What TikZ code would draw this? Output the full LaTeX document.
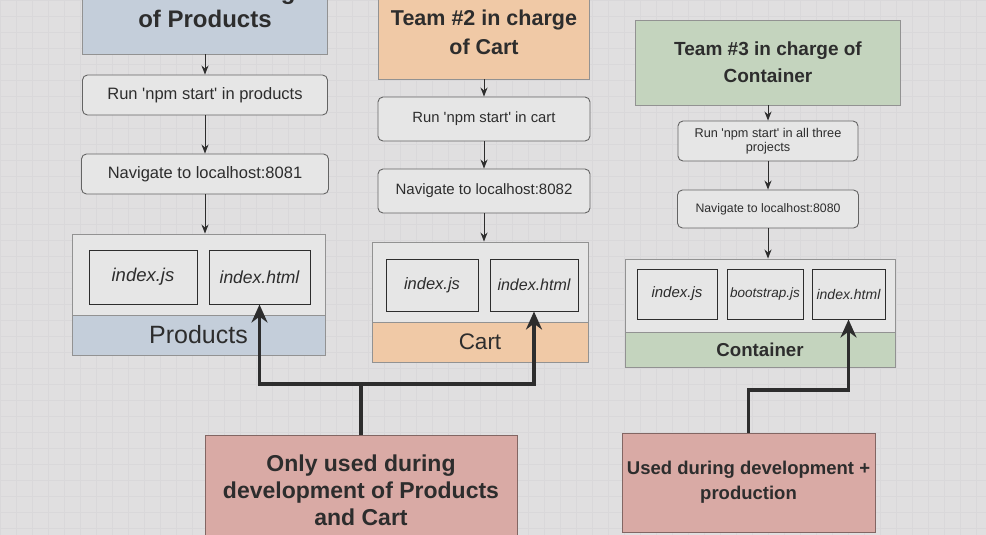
\documentclass[tikz,border=0pt]{standalone}
\usepackage{fontspec}
\setmainfont{Liberation Sans}
\usetikzlibrary{arrows.meta}
\definecolor{bgc}{RGB}{224,223,224}
\definecolor{gridc}{RGB}{217,216,218}
\definecolor{hblue}{RGB}{196,206,218}
\definecolor{horange}{RGB}{240,201,166}
\definecolor{hgreen}{RGB}{196,212,190}
\definecolor{hpink}{RGB}{217,170,165}
\definecolor{boxin}{RGB}{230,230,230}
\definecolor{txt}{RGB}{45,45,45}
\definecolor{edge}{RGB}{100,100,100}
\newcommand{\fsz}[2]{\fontsize{#1}{#2}\selectfont}
\newcommand{\q}{\textquotesingle}
\begin{document}
\begin{tikzpicture}[x=1pt,y=-1pt,
  every node/.style={text=txt, inner sep=2pt, align=center},
  header/.style={draw=edge!70, line width=0.8pt, font=\bfseries},
  stepbox/.style={draw=edge, fill=boxin, rounded corners=5pt, line width=0.9pt},
  contbox/.style={draw=edge!70, fill=boxin, line width=0.9pt},
  band/.style={draw=edge!70, line width=0.9pt},
  filebox/.style={draw=txt, fill=boxin, line width=1pt, font=\itshape},
  notebox/.style={draw=hpink!60!black, fill=hpink, line width=0.9pt, font=\bfseries},
  arr/.style={draw=txt, line width=1pt, -{Stealth[length=9pt,width=7pt]}},
  conn/.style={draw=txt, line width=3.8pt},
  connarr/.style={conn, -{Stealth[length=18pt,width=16pt]}}
]
\useasboundingbox (0,0) rectangle (986,535);
\fill[bgc] (0,0) rectangle (986,535);
\draw[gridc, line width=0.4pt, step=16pt] (0,0) grid (986,535);

% ---------- column 1: Products ----------
\node[header, fill=hblue, minimum width=245, minimum height=98, font=\bfseries\fsz{24}{28}] (hdr1) at (205,5) {Team \#1 in charge\\of Products};
\node[stepbox, minimum width=245, minimum height=40, font=\fsz{16.5}{19}] (run1) at (205,95) {Run \q npm start\q{} in products};
\node[stepbox, minimum width=247, minimum height=40, font=\fsz{16.5}{19}] (nav1) at (205,174) {Navigate to localhost:8081};
\node[contbox, minimum width=253, minimum height=121] (cont1) at (198.5,294.5) {};
\node[band, fill=hblue, minimum width=253, minimum height=40, font=\fsz{25}{29}] (lab1) at (198.5,335) {Products};
\node[filebox, minimum width=108, minimum height=54, font=\itshape\fsz{18.5}{21}] (js1) at (143,277) {index.js};
\node[filebox, minimum width=101, minimum height=54, font=\itshape\fsz{17.5}{21}] (html1) at (259.5,277) {index.html};
\draw[arr] (hdr1.south) -- (run1.north);
\draw[arr] (run1.south) -- (nav1.north);
\draw[arr] (nav1.south) -- (nav1.south |- cont1.north);

% ---------- column 2: Cart ----------
\node[header, fill=horange, minimum width=211, minimum height=94, font=\bfseries\fsz{21.5}{29}] (hdr2) at (484,32) {Team \#2 in charge\\of Cart};
\node[stepbox, minimum width=212, minimum height=44, font=\fsz{14.8}{17}] (run2) at (484,119) {Run \q npm start\q{} in cart};
\node[stepbox, minimum width=212, minimum height=44, font=\fsz{15}{18}] (nav2) at (484,191) {Navigate to localhost:8082};
\node[contbox, minimum width=216, minimum height=120] (cont2) at (480,302) {};
\node[band, fill=horange, minimum width=216, minimum height=40, font=\fsz{22.5}{26}] (lab2) at (480,342) {Cart};
\node[filebox, minimum width=92, minimum height=52, font=\itshape\fsz{16.5}{19}] (js2) at (432,285) {index.js};
\node[filebox, minimum width=88, minimum height=52, font=\itshape\fsz{16}{19}] (html2) at (534,285) {index.html};
\draw[arr] (hdr2.south) -- (run2.north);
\draw[arr] (run2.south) -- (nav2.north);
\draw[arr] (nav2.south) -- (nav2.south |- cont2.north);

% ---------- column 3: Container ----------
\node[header, fill=hgreen, minimum width=265, minimum height=85, font=\bfseries\fsz{19}{27}] (hdr3) at (768,62.5) {Team \#3 in charge of\\Container};
\node[stepbox, minimum width=180, minimum height=40, font=\fsz{12.7}{14}] (run3) at (768,141) {Run \q npm start\q{} in all three\\projects};
\node[stepbox, minimum width=181, minimum height=38, font=\fsz{12.3}{15}] (nav3) at (768,209) {Navigate to localhost:8080};
\node[contbox, minimum width=270, minimum height=108] (cont3) at (760,313) {};
\node[band, fill=hgreen, minimum width=270, minimum height=35, font=\bfseries\fsz{18.7}{22}] (lab3) at (760,349.5) {Container};
\node[filebox, minimum width=80, minimum height=50, font=\itshape\fsz{15}{18}] (js3) at (677,294) {index.js};
\node[filebox, minimum width=76, minimum height=50, inner sep=0pt, font=\itshape\fsz{13.5}{16}] (boot3) at (765,294) {bootstrap.js};
\node[filebox, minimum width=73, minimum height=50, inner sep=0pt, font=\itshape\fsz{14}{16}] (html3) at (848.5,294) {index.html};
\draw[arr] (hdr3.south) -- (run3.north);
\draw[arr] (run3.south) -- (nav3.north);
\draw[arr] (nav3.south) -- (nav3.south |- cont3.north);

% ---------- bottom notes ----------
\node[notebox, minimum width=312, minimum height=110, font=\bfseries\fsz{23}{27}] (note1) at (361,490) {Only used during\\development of Products\\and Cart};
\node[notebox, minimum width=253, minimum height=99, font=\bfseries\fsz{18.5}{25}] (note2) at (748.5,482.5) {Used during development +\\production};

\coordinate (bar1) at (0,384);
\coordinate (bar2) at (0,390);
\draw[conn] (note1.north) -- (note1.north |- bar1);
\draw[connarr] (note1.north |- bar1) -| (html1.south);
\draw[connarr] (note1.north |- bar1) -| (html2.south);
\draw[connarr] (note2.north) |- (html3.south |- bar2) -- (html3.south);
\end{tikzpicture}
\end{document}
